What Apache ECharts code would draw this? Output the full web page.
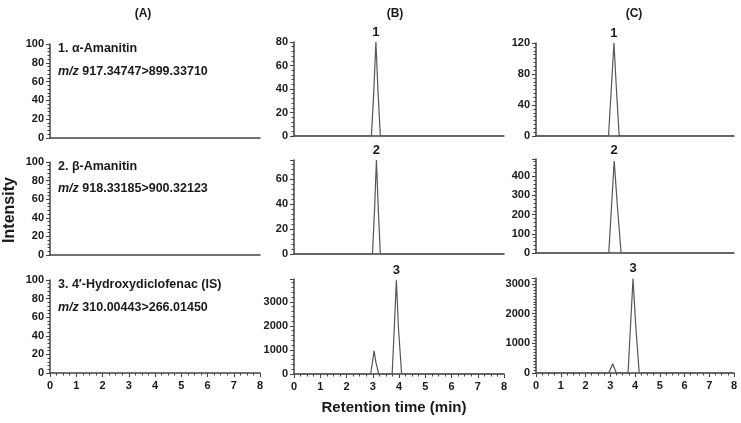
<!DOCTYPE html>
<html>
<head>
<meta charset="utf-8">
<script src="https://cdn.jsdelivr.net/npm/echarts@6/dist/echarts.min.js"></script>
<style>
html,body{margin:0;padding:0;background:#fff;}
#c{width:741px;height:423px;}
</style>
</head>
<body>
<div id="c"></div>
<script>
// ---- Data (retention time in min, intensity) ----
const columnTitles = ['(A)', '(B)', '(C)'];
const compoundNames = ['1. \u03b1-Amanitin', '2. \u03b2-Amanitin', '3. 4\u2032-Hydroxydiclofenac (IS)'];
const transitions = ['917.34747>899.33710', '918.33185>900.32123', '310.00443>266.01450'];
const peakLabels = ['1', '2', '3'];
const xTicks = [0, 1, 2, 3, 4, 5, 6, 7, 8];

// Column A (blank) - no signal
const rtA1 = []; const intA1 = [];
const rtA2 = []; const intA2 = [];
const rtA3 = []; const intA3 = [];

// Column B
const rtB1 = [0, 2.95, 3.04, 3.12, 3.20, 3.29, 8];
const intB1 = [0, 0, 38, 80, 38, 0, 0];
const rtB2 = [0, 2.99, 3.07, 3.14, 3.21, 3.29, 8];
const intB2 = [0, 0, 36, 75, 36, 0, 0];
const rtB3 = [0, 2.92, 2.99, 3.05, 3.12, 3.23, 3.74, 3.82, 3.90, 3.98, 4.10, 8];
const intB3 = [0, 0, 500, 960, 480, 0, 0, 1900, 3900, 1900, 0, 0];

// Column C
const rtC1 = [0, 2.93, 3.04, 3.15, 3.25, 3.36, 8];
const intC1 = [0, 0, 60, 120, 60, 0, 0];
const rtC2 = [0, 2.94, 3.05, 3.16, 3.29, 3.44, 8];
const intC2 = [0, 0, 240, 480, 240, 0, 0];
const rtC3 = [0, 2.94, 3.02, 3.10, 3.17, 3.25, 3.72, 3.82, 3.92, 4.03, 4.17, 8];
const intC3 = [0, 0, 160, 310, 160, 0, 0, 1600, 3170, 1600, 0, 0];

// y-axis scales per panel
const yMaxA = [100, 100, 100];
const yMaxB = [80, 75, 3950];
const yMaxC = [120, 490, 3200];
const yIntA = [20, 20, 20];
const yIntB = [20, 20, 1000];
const yIntC = [40, 100, 1000];
const yMinorA = [5, 5, 5];
const yMinorB = [5, 5, 5];
const yMinorC = [8, 5, 10];

// ---- Layout ----
const colLeft = [50, 294, 536];
const colWidth = [210, 210, 198];
const gridTop = [[44, 162, 280], [42, 160, 279], [43, 159, 278]];
const gridBottom = [[138, 255, 373], [136, 254, 374], [136, 253, 373]];

const panels = [
  [[rtA1, intA1], [rtA2, intA2], [rtA3, intA3]],
  [[rtB1, intB1], [rtB2, intB2], [rtB3, intB3]],
  [[rtC1, intC1], [rtC2, intC2], [rtC3, intC3]]
];
const yMax = [yMaxA, yMaxB, yMaxC];
const yInt = [yIntA, yIntB, yIntC];
const yMinor = [yMinorA, yMinorB, yMinorC];

const axisColor = '#444';
const textColor = '#1a1a1a';
const FONT = 'Liberation Sans, Arial, sans-serif';

const grids = [], xAxes = [], yAxes = [], series = [];
let idx = 0;
for (let c = 0; c < 3; c++) {
  for (let r = 0; r < 3; r++) {
    grids.push({
      left: colLeft[c], width: colWidth[c],
      top: gridTop[c][r], height: gridBottom[c][r] - gridTop[c][r],
      containLabel: false
    });
    const bottomRow = r === 2;
    xAxes.push({
      type: 'value', gridIndex: idx, min: 0, max: 8, interval: 1,
      axisLine: { show: true, onZero: false, lineStyle: { color: axisColor, width: 1.5 } },
      axisTick: { show: bottomRow, length: 4, lineStyle: { color: axisColor, width: 1 } },
      minorTick: { show: bottomRow, splitNumber: 4, length: 2.5, lineStyle: { color: axisColor, width: 1 } },
      axisLabel: { show: bottomRow, margin: 7, color: textColor, fontWeight: 'bold', fontSize: 11, fontFamily: FONT,
        formatter: v => xTicks.includes(v) ? String(v) : '' },
      splitLine: { show: false }
    });
    const mx = yMax[c][r], iv = yInt[c][r];
    yAxes.push({
      type: 'value', gridIndex: idx, min: 0, max: mx, interval: iv,
      axisLine: { show: true, lineStyle: { color: axisColor, width: 1.5 } },
      axisTick: { show: true, length: 4, lineStyle: { color: axisColor, width: 1 } },
      minorTick: { show: true, splitNumber: yMinor[c][r], length: 2.5, lineStyle: { color: axisColor, width: 1 } },
      axisLabel: { show: true, margin: 6, color: textColor, fontWeight: 'bold', fontSize: 11, fontFamily: FONT,
        showMaxLabel: mx % iv === 0,
        formatter: v => (v % iv === 0 ? String(v) : '') },
      splitLine: { show: false }
    });
    const [rt, it] = panels[c][r];
    let peakIdx = -1, best = -1;
    it.forEach((v, i) => { if (v > best) { best = v; peakIdx = i; } });
    const data = rt.map((x, i) => [x, it[i]]);
    const s = {
      type: 'line', xAxisIndex: idx, yAxisIndex: idx, data: data,
      showSymbol: false, symbol: 'none',
      lineStyle: { color: '#555', width: 1.2 },
      silent: true, animation: false, z: 2
    };
    if (best > 0) {
      s.markPoint = {
        symbol: 'circle', symbolSize: 1, silent: true,
        itemStyle: { color: 'rgba(0,0,0,0)' },
        label: { show: true, position: 'top', distance: 3, formatter: peakLabels[r],
          color: textColor, fontWeight: 'bold', fontSize: 13, fontFamily: FONT },
        data: [{ coord: [rt[peakIdx], it[peakIdx]], value: it[peakIdx] }]
      };
    }
    series.push(s);
    idx++;
  }
}

const graphics = [];
const titleX = [143, 395, 634];
columnTitles.forEach((t, i) => graphics.push({
  type: 'text', x: titleX[i], y: 14,
  style: { text: t, fill: textColor, font: 'bold 12px ' + FONT, textAlign: 'center', textVerticalAlign: 'middle' }
}));
const nameY = [49, 167, 285];
const mzY = [72, 189, 308];
for (let r = 0; r < 3; r++) {
  graphics.push({
    type: 'text', x: 58, y: nameY[r],
    style: { text: compoundNames[r], fill: textColor, font: 'bold 12.5px ' + FONT, textVerticalAlign: 'middle' }
  });
  graphics.push({
    type: 'text', x: 58, y: mzY[r],
    style: {
      text: '{i|m/z} ' + transitions[r], fill: textColor, font: 'bold 12.5px ' + FONT, textVerticalAlign: 'middle',
      rich: { i: { fontStyle: 'italic', fontWeight: 'bold', fontSize: 12.5, fontFamily: FONT, fill: textColor } }
    }
  });
}
graphics.push({
  type: 'text', x: 10, y: 210, rotation: Math.PI / 2,
  style: { text: 'Intensity', fill: textColor, font: 'bold 16px ' + FONT, textAlign: 'center', textVerticalAlign: 'middle' }
});
graphics.push({
  type: 'text', x: 394, y: 408,
  style: { text: 'Retention time (min)', fill: textColor, font: 'bold 15px ' + FONT, textAlign: 'center', textVerticalAlign: 'middle' }
});

const chart = echarts.init(document.getElementById('c'), null, { renderer: 'canvas' });
chart.setOption({
  backgroundColor: '#fff',
  animation: false,
  grid: grids, xAxis: xAxes, yAxis: yAxes, series: series,
  graphic: graphics
});
</script>
</body>
</html>
